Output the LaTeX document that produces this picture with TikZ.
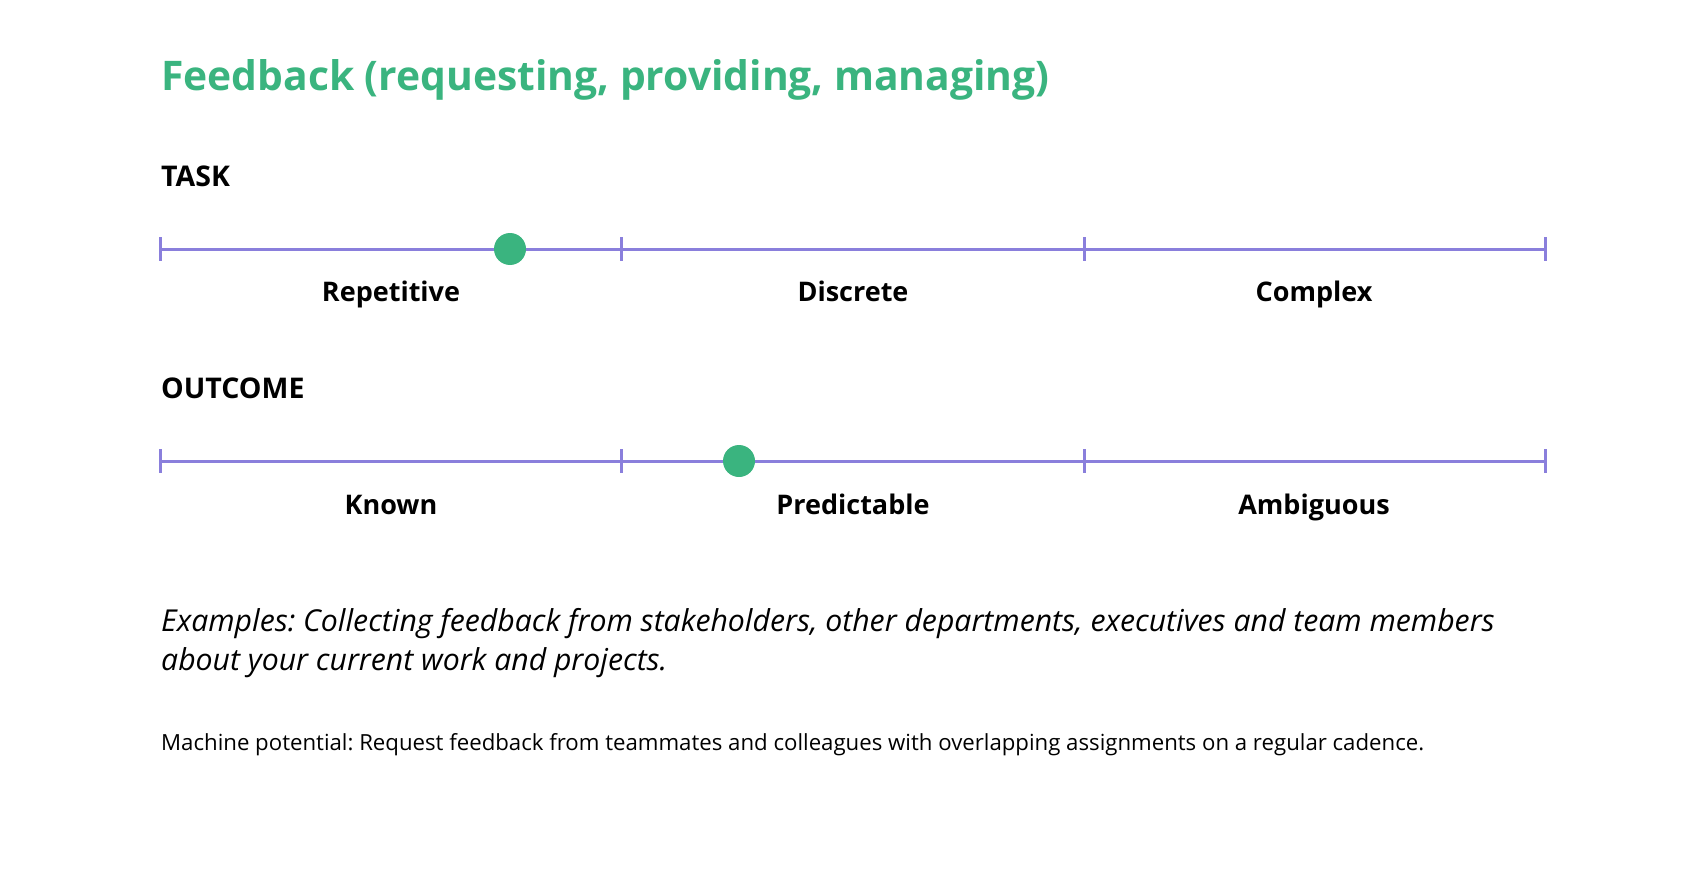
\documentclass[tikz,border=0pt]{standalone}
\usepackage{fontspec}
\setmainfont{Open Sans}
\definecolor{grn}{HTML}{3AB47F}
\definecolor{prp}{HTML}{8A7FDC}
\begin{document}
\begin{tikzpicture}[x=1pt,y=-1pt,
  scaleline/.style={draw=prp,line width=3pt},
  tickmark/.style={draw=prp,line width=3pt},
  dotmark/.style={circle,fill=grn,inner sep=0pt,minimum size=32pt},
  seglabel/.style={anchor=base,inner sep=0pt,font=\fontsize{27}{32}\selectfont\bfseries},
  heading/.style={anchor=base west,inner sep=0pt,font=\fontsize{28.5}{32}\selectfont\bfseries},
  plain/.style={anchor=base west,inner sep=0pt},
]
\useasboundingbox (0,0) rectangle (1706,872);
\node[plain,text=grn,font=\fontsize{40.8}{48}\selectfont\bfseries] (title) at (161,91) {Feedback (requesting, providing, managing)};
% TASK
\node[heading] (task) at (161,186) {TASK};
\foreach \n/\x in {a0/160,a1/621,a2/1084,a3/1545}{
  \coordinate (\n) at (\x,249);
  \draw[tickmark] (\x,237) -- (\x,261);
}
\draw[scaleline] (a0) -- (a3);
\node[dotmark] (d1) at (510,249) {};
\node[seglabel] (rep) at (391,301) {Repetitive};
\node[seglabel] (dis) at (853,301) {Discrete};
\node[seglabel] (com) at (1314,301) {Complex};
% OUTCOME
\node[heading] (out) at (161,398) {OUTCOME};
\foreach \n/\x in {b0/160,b1/621,b2/1084,b3/1545}{
  \coordinate (\n) at (\x,461);
  \draw[tickmark] (\x,449) -- (\x,473);
}
\draw[scaleline] (b0) -- (b3);
\node[dotmark] (d2) at (739,461) {};
\node[seglabel] (kno) at (391,514) {Known};
\node[seglabel] (pre) at (853,514) {Predictable};
\node[seglabel] (amb) at (1314,514) {Ambiguous};
% Examples
\node[plain,font=\fontsize{30.2}{39}\selectfont\itshape\frenchspacing] (ex1) at (161,631) {Examples: Collecting feedback from stakeholders, other departments, executives and team members};
\node[plain,font=\fontsize{30.2}{39}\selectfont\itshape\frenchspacing] (ex2) at (161,670) {about your current work and projects.};
\node[plain,font=\fontsize{22.2}{24}\selectfont\frenchspacing] (mp) at (161,750) {Machine potential: Request feedback from teammates and colleagues with overlapping assignments on a regular cadence.};
\end{tikzpicture}
\end{document}
